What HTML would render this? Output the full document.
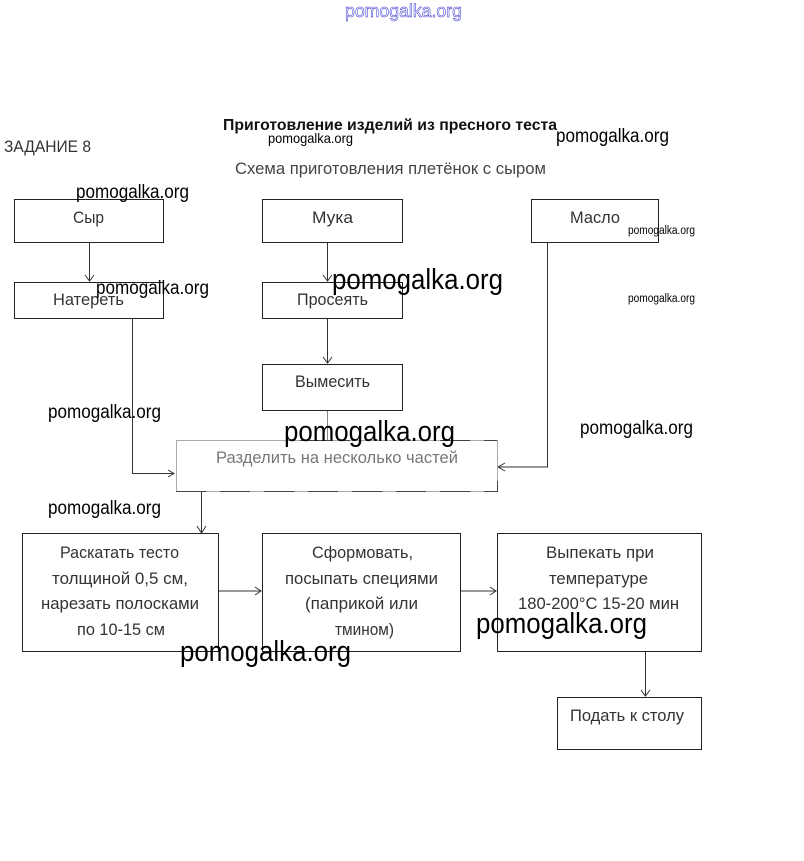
<!DOCTYPE html>
<html lang="ru">
<head>
<meta charset="utf-8">
<title>Схема приготовления плетёнок с сыром</title>
<style>
html,body{margin:0;padding:0;background:#fff;width:804px;height:861px;overflow:hidden}
svg{display:block}
text{font-family:"Liberation Sans",sans-serif}
.t{font-size:17px;fill:#333}
.w{fill:#000}
.b{fill:#fff;stroke:#222;stroke-width:1}
.l{fill:none;stroke:#333;stroke-width:1}
</style>
</head>
<body>
<svg width="804" height="861" viewBox="0 0 804 861" xmlns="http://www.w3.org/2000/svg">
<!-- connectors -->
<path class="l" d="M89.5 243V281M85 275L89.5 281L94 275"/>
<path class="l" d="M327.5 243V281M323 275L327.5 281L332 275"/>
<path class="l" d="M327.5 319V363M323 357L327.5 363L332 357"/>
<path class="l" d="M327.5 411V440" stroke-opacity=".6"/>
<path class="l" d="M132.5 319V473.5H174M168 470L174 473.5L168 477"/>
<path class="l" d="M547.5 243V467H498M505 463L498 467L505 471"/>
<path class="l" d="M201.5 491V533M197 526L201.5 533L206 526"/>
<path class="l" d="M219 591H261M255 587L261 591L255 595"/>
<path class="l" d="M461 591H496M490 587L496 591L490 595"/>
<path class="l" d="M645.5 652V696M641 690L645.5 696L650 690"/>
<!-- boxes -->
<rect class="b" x="14.5" y="199.5" width="149" height="43"/>
<rect class="b" x="262.5" y="199.5" width="140" height="43"/>
<rect class="b" x="531.5" y="199.5" width="127" height="43"/>
<rect class="b" x="14.5" y="282.5" width="149" height="36"/>
<rect class="b" x="262.5" y="282.5" width="140" height="36"/>
<rect class="b" x="262.5" y="364.5" width="140" height="46"/>
<rect x="176.5" y="440.5" width="321" height="51" fill="#fff" stroke="#aaa"/>
<path d="M176 491.5H497.5V481M300 440.5H350M440 440.5H497" fill="none" stroke="#444" stroke-dasharray="30 14"/>
<rect class="b" x="22.5" y="533.5" width="196" height="118"/>
<rect class="b" x="262.5" y="533.5" width="198" height="118"/>
<rect class="b" x="497.5" y="533.5" width="204" height="118"/>
<rect class="b" x="557.5" y="697.5" width="144" height="52"/>
<!-- headings -->
<text x="345" y="17" font-size="18" fill="#fff" stroke="#2a2ad0" stroke-width=".5" textLength="117" lengthAdjust="spacingAndGlyphs">pomogalka.org</text>
<text x="223" y="130" font-size="15.5" font-weight="bold" fill="#111" textLength="334" lengthAdjust="spacingAndGlyphs">Приготовление изделий из пресного теста</text>
<text x="4" y="152" font-size="17" fill="#333" textLength="87" lengthAdjust="spacingAndGlyphs">ЗАДАНИЕ 8</text>
<text x="235" y="174" font-size="17" fill="#444" textLength="311" lengthAdjust="spacingAndGlyphs">Схема приготовления плетёнок с сыром</text>
<!-- box labels -->
<text class="t" x="73" y="223" textLength="31" lengthAdjust="spacingAndGlyphs">Сыр</text>
<text class="t" x="312" y="223" textLength="41" lengthAdjust="spacingAndGlyphs">Мука</text>
<text class="t" x="570" y="223" textLength="50" lengthAdjust="spacingAndGlyphs">Масло</text>
<text class="t" x="53" y="305" textLength="71" lengthAdjust="spacingAndGlyphs">Натереть</text>
<text class="t" x="297" y="305" textLength="71" lengthAdjust="spacingAndGlyphs">Просеять</text>
<text class="t" x="295" y="387" textLength="75" lengthAdjust="spacingAndGlyphs">Вымесить</text>
<text x="216" y="463" font-size="17" fill="#777" textLength="242" lengthAdjust="spacingAndGlyphs">Разделить на несколько частей</text>
<text class="t" x="60" y="558" textLength="119" lengthAdjust="spacingAndGlyphs">Раскатать тесто</text>
<text class="t" x="52" y="584" textLength="136" lengthAdjust="spacingAndGlyphs">толщиной 0,5 см,</text>
<text class="t" x="41" y="609" textLength="158" lengthAdjust="spacingAndGlyphs">нарезать полосками</text>
<text class="t" x="77" y="635" textLength="88" lengthAdjust="spacingAndGlyphs">по 10-15 см</text>
<text class="t" x="312" y="558" textLength="101" lengthAdjust="spacingAndGlyphs">Сформовать,</text>
<text class="t" x="285" y="584" textLength="153" lengthAdjust="spacingAndGlyphs">посыпать специями</text>
<text class="t" x="305" y="609" textLength="113" lengthAdjust="spacingAndGlyphs">(паприкой или</text>
<text class="t" x="335" y="635" textLength="59" lengthAdjust="spacingAndGlyphs">тмином)</text>
<text class="t" x="546" y="558" textLength="108" lengthAdjust="spacingAndGlyphs">Выпекать при</text>
<text class="t" x="549" y="584" textLength="99" lengthAdjust="spacingAndGlyphs">температуре</text>
<text class="t" x="518" y="609" textLength="161" lengthAdjust="spacingAndGlyphs">180-200°С 15-20 мин</text>
<text class="t" x="570" y="721" textLength="114" lengthAdjust="spacingAndGlyphs">Подать к столу</text>
<!-- watermarks -->
<text class="w" x="268" y="143" font-size="14" textLength="85" lengthAdjust="spacingAndGlyphs">pomogalka.org</text>
<text class="w" x="556" y="142" font-size="19" textLength="113" lengthAdjust="spacingAndGlyphs">pomogalka.org</text>
<text class="w" x="76" y="198" font-size="19" textLength="113" lengthAdjust="spacingAndGlyphs">pomogalka.org</text>
<text class="w" x="628" y="234" font-size="11.5" textLength="67" lengthAdjust="spacingAndGlyphs">pomogalka.org</text>
<text class="w" x="628" y="302" font-size="11.5" textLength="67" lengthAdjust="spacingAndGlyphs">pomogalka.org</text>
<text class="w" x="96" y="294" font-size="19" textLength="113" lengthAdjust="spacingAndGlyphs">pomogalka.org</text>
<text class="w" x="332" y="289" font-size="29" textLength="171" lengthAdjust="spacingAndGlyphs">pomogalka.org</text>
<text class="w" x="48" y="418" font-size="19" textLength="113" lengthAdjust="spacingAndGlyphs">pomogalka.org</text>
<text class="w" x="580" y="434" font-size="19" textLength="113" lengthAdjust="spacingAndGlyphs">pomogalka.org</text>
<text class="w" x="284" y="441" font-size="29" textLength="171" lengthAdjust="spacingAndGlyphs">pomogalka.org</text>
<text class="w" x="48" y="514" font-size="19" textLength="113" lengthAdjust="spacingAndGlyphs">pomogalka.org</text>
<text class="w" x="476" y="633" font-size="29" textLength="171" lengthAdjust="spacingAndGlyphs">pomogalka.org</text>
<text class="w" x="180" y="661" font-size="29" textLength="171" lengthAdjust="spacingAndGlyphs">pomogalka.org</text>
</svg>
</body>
</html>
